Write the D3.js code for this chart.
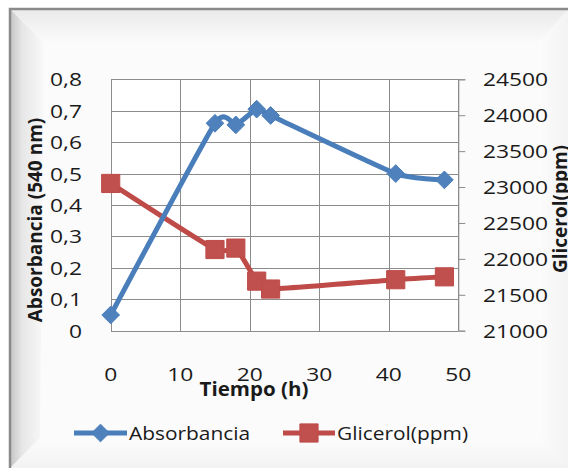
<!DOCTYPE html>
<html>
<head>
<meta charset="utf-8">
<script src="https://cdn.jsdelivr.net/npm/d3@7"></script>
<style>
  html, body { margin: 0; padding: 0; background: #ffffff; }
  svg { display: block; }
  text { font-family: "Open Sans", "Noto Sans", sans-serif; fill: #1a1a1a; }
</style>
</head>
<body>
<svg id="chart" width="568" height="468"></svg>
<script>
// Tiempo de muestreo (h)
const tiempo = [0, 15, 18, 21, 23, 41, 48];
// Absorbancia a 540 nm
const absorbancia = [0.05, 0.66, 0.655, 0.705, 0.685, 0.50, 0.48];
// Glicerol (ppm)
const glicerol = [23050, 22130, 22150, 21690, 21580, 21710, 21750];

const xTicks = [0, 10, 20, 30, 40, 50];
const yLeftTicks = [0, 0.1, 0.2, 0.3, 0.4, 0.5, 0.6, 0.7, 0.8];
const yRightTicks = [21000, 21500, 22000, 22500, 23000, 23500, 24000, 24500];

const seriesNames = ["Absorbancia", "Glicerol(ppm)"];
const colors = { abs: "#4a7ebb", gli: "#be4b48", absMark: "#4f81bd", gliMark: "#c0504d" };

const svg = d3.select("#chart");
const W = 568, H = 468;

// ---- frame with bevelled edges ----
const defs = svg.append("defs");
function grad(id, x1, y1, x2, y2, stops) {
  const g = defs.append("linearGradient").attr("id", id)
    .attr("x1", x1).attr("y1", y1).attr("x2", x2).attr("y2", y2);
  stops.forEach(s => g.append("stop").attr("offset", s[0]).attr("stop-color", s[1]));
}
grad("gLeft", 0, 0, 1, 0, [[0, "#c4c4c4"], [0.35, "#e6e6e6"], [1, "#f9f9f9"]]);
grad("gTop", 0, 0, 0, 1, [[0, "#eaeaea"], [1, "#fbfbfb"]]);
grad("gBottom", 0, 1, 0, 0, [[0, "#f2f2f2"], [1, "#fcfcfc"]]);
grad("gRight", 1, 0, 0, 0, [[0, "#f3f3f3"], [1, "#fcfcfc"]]);

const fx0 = 10, fy0 = 9, bw = 34;
svg.append("rect").attr("x", fx0).attr("y", fy0).attr("width", W - fx0).attr("height", H - fy0).attr("fill", "#fbfbfb");
// top band
svg.append("path").attr("d", `M${fx0},${fy0} L${W},${fy0} L${W},${fy0 + bw} L${fx0 + bw},${fy0 + bw} Z`).attr("fill", "url(#gTop)");
// bottom band
svg.append("path").attr("d", `M${fx0},${H} L${W},${H} L${W},${H - 30} L${fx0 + 30},${H - 30} Z`).attr("fill", "url(#gBottom)");
// right band
svg.append("path").attr("d", `M${W},${fy0} L${W},${H} L${W - 30},${H - 30} L${W - 30},${fy0 + bw} Z`).attr("fill", "url(#gRight)");
// left band
svg.append("path").attr("d", `M${fx0},${fy0} L${fx0 + bw},${fy0 + bw} L${fx0 + 30},${H - 30} L${fx0},${H} Z`).attr("fill", "url(#gLeft)");
// outer border
svg.append("path").attr("d", `M${W},${fy0} L${fx0},${fy0} L${fx0},${H}`)
  .attr("fill", "none").attr("stroke", "#8a8a8a").attr("stroke-width", 2.5);

// ---- plot area ----
const plot = { left: 110.7, right: 458.3, top: 79.3, bottom: 330.7 };
const x = d3.scaleLinear().domain([0, 50]).range([plot.left, plot.right]);
const yL = d3.scaleLinear().domain([0, 0.8]).range([plot.bottom, plot.top]);
const yR = d3.scaleLinear().domain([21000, 24500]).range([plot.bottom, plot.top]);

svg.append("rect").attr("x", plot.left).attr("y", plot.top)
  .attr("width", plot.right - plot.left).attr("height", plot.bottom - plot.top).attr("fill", "#ffffff");

const grid = svg.append("g").attr("stroke", "#8c8c8c").attr("stroke-width", 1).attr("shape-rendering", "crispEdges");
grid.selectAll("line.h").data(yLeftTicks).join("line")
  .attr("x1", plot.left).attr("x2", plot.right)
  .attr("y1", d => Math.round(yL(d)) + 0.5).attr("y2", d => Math.round(yL(d)) + 0.5);
grid.selectAll("line.v").data(xTicks).join("line")
  .attr("y1", plot.top).attr("y2", plot.bottom)
  .attr("x1", d => Math.round(x(d)) + 0.5).attr("x2", d => Math.round(x(d)) + 0.5);

const sx = 1.2; // horizontal text stretch
const tickSize = 19;

// left axis labels
svg.append("g").selectAll("text").data(yLeftTicks).join("text")
  .attr("transform", d => `translate(82,${yL(d) + 7}) scale(${sx},1)`)
  .attr("text-anchor", "end").attr("font-size", tickSize)
  .text(d => d3.format(".1f")(d).replace(".", ",").replace(/^0,0$/, "0"));

// right axis with outward ticks
const rightAxis = d3.axisRight(yR).tickValues(yRightTicks).tickSize(7).tickFormat(d => "");
svg.append("g").attr("transform", `translate(${plot.right},0)`).call(rightAxis)
  .call(g => g.select(".domain").attr("stroke", "#8c8c8c"))
  .call(g => g.selectAll(".tick line").attr("stroke", "#8c8c8c"));
svg.append("g").selectAll("text").data(yRightTicks).join("text")
  .attr("transform", d => `translate(483,${yR(d) + 7}) scale(${sx},1)`)
  .attr("font-size", tickSize)
  .text(d => d);

// bottom axis labels
svg.append("g").selectAll("text").data(xTicks).join("text")
  .attr("transform", d => `translate(${x(d)},381) scale(${sx},1)`)
  .attr("text-anchor", "middle").attr("font-size", tickSize)
  .text(d => d);

// axis titles
svg.append("text").attr("transform", `translate(254,396) scale(1.08,1)`)
  .attr("text-anchor", "middle").attr("font-size", 19).attr("font-weight", "bold")
  .text("Tiempo (h)");
svg.append("text").attr("transform", `translate(42,220) rotate(-90)`)
  .attr("text-anchor", "middle").attr("font-size", 19).attr("font-weight", "bold")
  .text("Absorbancia (540 nm)");
svg.append("text").attr("transform", `translate(567,209) rotate(-90)`)
  .attr("text-anchor", "middle").attr("font-size", 19).attr("font-weight", "bold")
  .text("Glicerol(ppm)");

// ---- series (smoothed lines) ----
const absData = tiempo.map((t, i) => ({ t, v: absorbancia[i] }));
const gliData = tiempo.map((t, i) => ({ t, v: glicerol[i] }));

const smooth = d3.curveCardinal.tension(0.5);
const lineAbs = d3.line().x(d => x(d.t)).y(d => yL(d.v)).curve(smooth);
const lineGli = d3.line().x(d => x(d.t)).y(d => yR(d.v)).curve(smooth);

svg.append("path").datum(gliData).attr("d", lineGli)
  .attr("fill", "none").attr("stroke", colors.gli).attr("stroke-width", 5).attr("stroke-linejoin", "round");
svg.append("path").datum(absData).attr("d", lineAbs)
  .attr("fill", "none").attr("stroke", colors.abs).attr("stroke-width", 5).attr("stroke-linejoin", "round");

const diamond = d3.symbol().type(d3.symbolDiamond2).size(200);
const square = d3.symbol().type(d3.symbolSquare).size(330);

svg.append("g").selectAll("path").data(gliData).join("path")
  .attr("transform", d => `translate(${x(d.t)},${yR(d.v)})`)
  .attr("d", square).attr("fill", colors.gliMark).attr("stroke", colors.gli).attr("stroke-width", 1);
svg.append("g").selectAll("path").data(absData).join("path")
  .attr("transform", d => `translate(${x(d.t)},${yL(d.v)})`)
  .attr("d", diamond).attr("fill", colors.absMark).attr("stroke", colors.abs).attr("stroke-width", 1);

// ---- legend ----
const legendY = 433;
const leg = svg.append("g");
leg.append("line").attr("x1", 74).attr("x2", 127).attr("y1", legendY).attr("y2", legendY)
  .attr("stroke", colors.abs).attr("stroke-width", 5);
leg.append("path").attr("transform", `translate(100.5,${legendY})`).attr("d", diamond)
  .attr("fill", colors.absMark).attr("stroke", colors.abs);
leg.append("text").attr("transform", `translate(129,${legendY + 7}) scale(1.1,1)`)
  .attr("font-size", 19).text(seriesNames[0]);
leg.append("line").attr("x1", 283).attr("x2", 335).attr("y1", legendY).attr("y2", legendY)
  .attr("stroke", colors.gli).attr("stroke-width", 5);
leg.append("path").attr("transform", `translate(309,${legendY})`).attr("d", square)
  .attr("fill", colors.gliMark).attr("stroke", colors.gli);
leg.append("text").attr("transform", `translate(337,${legendY + 7}) scale(1.1,1)`)
  .attr("font-size", 19).text(seriesNames[1]);
</script>
</body>
</html>
